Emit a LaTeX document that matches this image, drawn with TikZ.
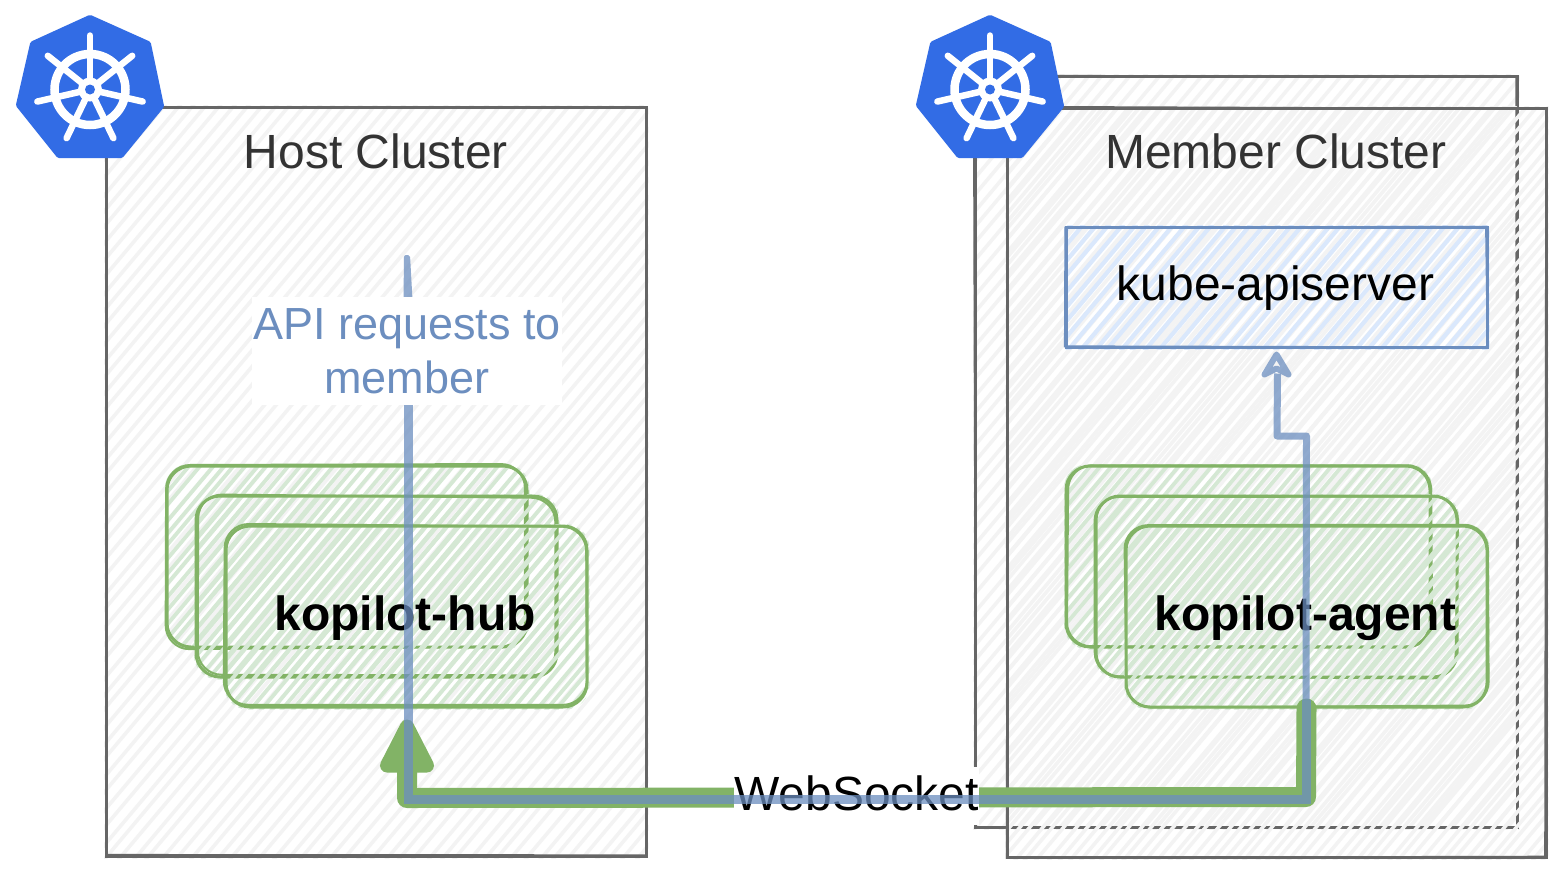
\documentclass[tikz,border=0pt]{standalone}
\usepackage{fontspec}
\setmainfont{Liberation Sans}
\usetikzlibrary{calc}
\definecolor{clusterline}{HTML}{666666}
\definecolor{clusterfill}{HTML}{F3F3F3}
\definecolor{titletext}{HTML}{333333}
\definecolor{greenline}{HTML}{82B366}
\definecolor{greenfill}{HTML}{D5E8D4}
\definecolor{blueline}{HTML}{6C8EBF}
\definecolor{bluefill}{HTML}{DAE8FC}
\definecolor{kubeblue}{HTML}{326CE5}
\tikzset{
  clusterbox/.style={draw=clusterline,line width=3pt,inner sep=0pt},
  podbox/.style={draw=greenline,line width=3pt,inner sep=0pt},
  apibox/.style={draw=blueline,line width=3pt,inner sep=0pt},
  clusterhatch/.style={clusterfill,line width=3.6pt},
  podhatch/.style={greenfill,line width=3.8pt},
  apihatch/.style={bluefill,line width=4.2pt},
  titlelabel/.style={font=\fontsize{48}{54}\selectfont,text=titletext,anchor=base,inner sep=0pt},
  plainlabel/.style={font=\fontsize{48}{54}\selectfont,text=black,anchor=base,inner sep=0pt},
  boldlabel/.style={font=\fontsize{48}{54}\selectfont\bfseries,text=black,anchor=base,inner sep=0pt},
  greenlink/.style={draw=greenline,line width=20pt,line join=round,line cap=round},
  bluelinkthick/.style={draw=blueline,opacity=.75,line width=9pt,line join=miter},
  bluelinkthin/.style={draw=blueline,opacity=.75,line width=7pt,line join=miter},
}
% name,x1,y1,x2,y2,hatch style,box style,radius,hatch gap
\newcommand{\sketchbox}[9]{%
  \pgfmathsetmacro\bw{#4-#2}\pgfmathsetmacro\bh{#5-#3}%
  \pgfmathsetmacro\brun{\bh/1.19}%
  \pgfmathtruncatemacro\bnn{(\bw+\brun)/#9+1}%
  \begin{scope}
    \clip[rounded corners=#8pt] (#2-2,#3-2) rectangle (#4+2.5,#5+2.5);
    \foreach \i in {0,...,\bnn}{%
      \pgfmathsetmacro\xx{#2-\brun+\i*#9+3*rnd}%
      \draw[#6] (\xx-4,#5+4.76) -- (\xx+\brun+4,#3-4.76);
    }
  \end{scope}
  \node[#7,rounded corners=#8pt,minimum width=\bw pt,minimum height=\bh pt] (#1) at ({(#2+#4)/2},{(#3+#5)/2}) {};
  \pgfmathsetmacro\ja{\sketchjit*(2*rnd-1)}\pgfmathsetmacro\jb{\sketchjit*(2*rnd-1)}%
  \pgfmathsetmacro\jc{\sketchjit*(2*rnd-1)}\pgfmathsetmacro\jd{\sketchjit*(2*rnd-1)}%
  \pgfmathsetmacro\je{\sketchjit*(2*rnd-1)}\pgfmathsetmacro\jf{\sketchjit*(2*rnd-1)}%
  \pgfmathsetmacro\jg{\sketchjit*(2*rnd-1)}\pgfmathsetmacro\jh{\sketchjit*(2*rnd-1)}%
  \draw[#7,rounded corners=#8pt,line width=2pt]
    (#2+\ja,#3+\jb) -- (#4+\jc,#3+\jd) -- (#4+\je,#5+\jf) -- (#2+\jg,#5+\jh) -- cycle;
}
\newcommand{\kubeicon}[1]{%
  \begin{scope}[shift={(#1,0)}]
    \fill[kubeblue,draw=kubeblue,line width=6pt,line join=round]
      (90,18) -- (148,44) -- (161,106) -- (121,155) -- (59,155) -- (19,105) -- (33,44) -- cycle;
    \draw[white,line width=8.5pt] (90,89.5) circle[radius=35.5pt];
    \foreach \a in {-90,-38.6,12.9,64.3,115.7,167.1,218.6}{
      \draw[white,line width=6.5pt,line cap=round] (90,89.5) -- ++(\a:54);
    }
    \fill[white] (90,89.5) circle[radius=12pt];
    \fill[kubeblue] (90,89.5) circle[radius=5pt];
  \end{scope}
}
\begin{document}
\begin{tikzpicture}[x=1pt,y=-1pt]
\pgfmathsetseed{4242}
\useasboundingbox (0,0) rectangle (1563,873);
\fill[white] (0,0) rectangle (1563,873);

% clusters
\def\sketchjit{1.2}
\sketchbox{host}{106}{107}{646}{856}{clusterhatch}{clusterbox}{0}{14}
\sketchbox{memberback}{975}{76}{1517}{827}{clusterhatch}{clusterbox}{0}{14}
\sketchbox{member}{1007}{108}{1546}{857}{clusterhatch}{clusterbox}{0}{11}

% api server
\sketchbox{api}{1066}{227}{1487}{347}{apihatch}{apibox}{0}{13}

% pods
\def\sketchjit{2.4}
\sketchbox{hubA}{167}{466}{527}{647}{podhatch}{podbox}{24}{11}
\sketchbox{hubB}{196}{496}{557}{677}{podhatch}{podbox}{24}{11}
\sketchbox{hubC}{226}{526}{587}{707}{podhatch}{podbox}{24}{11}
\sketchbox{agentA}{1066}{466}{1430}{647}{podhatch}{podbox}{24}{11}
\sketchbox{agentB}{1096}{496}{1457}{677}{podhatch}{podbox}{24}{11}
\sketchbox{agentC}{1126}{526}{1487}{707}{podhatch}{podbox}{24}{11}

% icons
\kubeicon{0}
\kubeicon{900}

% texts
\node[titlelabel] (hosttitle) at (376,168) {Host Cluster};
\node[titlelabel] (membertitle) at (1276,168) {Member Cluster};
\node[plainlabel] (apitext) at (1275.5,300) {kube-apiserver};
\node[boldlabel] (hubtext) at (405,630) {kopilot-hub};
\node[boldlabel] (agenttext) at (1305.5,630) {kopilot-agent};

% websocket connector
\coordinate (gtip) at ($(hubC.south)+(0.5,11)$);
\coordinate (gbarbL) at ($(gtip)+(-20,46)$);
\coordinate (gbarbR) at ($(gtip)+(20,46)$);
\coordinate (gshaft) at ($(gtip)+(0,40)$);
\coordinate (gleft) at (407,798);
\coordinate (gright) at (1306,797);
\draw[greenlink] (agentC.south) -- (gright) -- (gleft) -- (gshaft);
\filldraw[draw=greenline,fill=greenline,line width=14pt,line join=round]
  ($(gtip)+(0,7)$) -- (gbarbL) -- (gbarbR) -- cycle;

\node[plainlabel,anchor=center,fill=white,minimum width=243pt,text height=43pt,text depth=15pt] (wslabel) at (856.5,796) {WebSocket};

% API request connector
\coordinate (bstart) at (407,255);
\coordinate (bmid) at (408,300);
\coordinate (bleft) at (408,799);
\coordinate (bright) at (1306,799);
\coordinate (bknee) at (1306,700);
\coordinate (bstepR) at (1306.5,436);
\coordinate (bstepL) at (1277,436);
\coordinate (bend) at ($(api.south)+(1,25)$);
\coordinate (btip) at ($(api.south)+(0,6)$);
\fill[blueline,opacity=.75,rounded corners=2pt]
  ($(bstart)+(-3,0)$) -- ($(bstart)+(3,0)$) -- ($(bmid)+(4.5,0)$) -- ($(bmid)+(-4.5,0)$) -- cycle;
\draw[bluelinkthick] (bmid) -- (bleft) -- (bright) -- (bknee);
\draw[bluelinkthin,line join=round] (bknee) -- (bstepR) -- (bstepL) -- (bend);
\draw[blueline,opacity=.75,line width=6pt,line join=round,line cap=round]
  (btip) -- ($(btip)+(-12,20)$) -- ($(btip)+(0,14)$) -- ($(btip)+(12,20)$) -- cycle;

\node[fill=white,inner sep=0pt,align=center,text=blueline,minimum width=310pt,minimum height=108pt,
  font=\fontsize{45}{54}\selectfont] (apilabel) at (407,351)
  {API requests to\\member};
\end{tikzpicture}
\end{document}
